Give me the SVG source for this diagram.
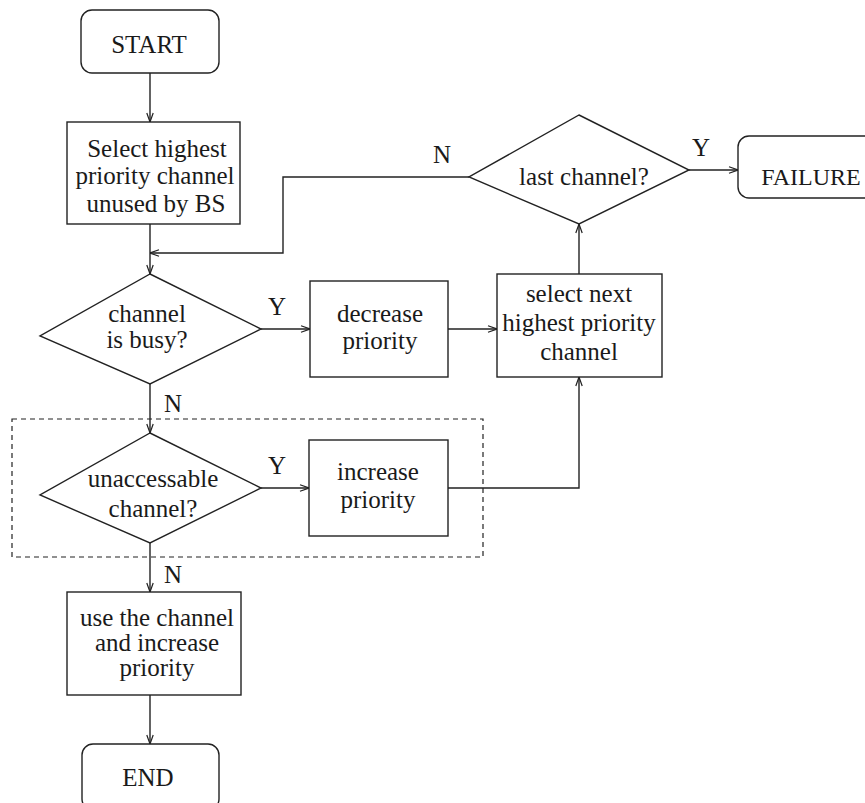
<svg xmlns="http://www.w3.org/2000/svg" width="865" height="803" viewBox="0 0 865 803">
<style>
.s{fill:none;stroke:#222;stroke-width:1.4}
.n{fill:#fff;stroke:#222;stroke-width:1.4}
.t{font-family:'Liberation Serif','Times New Roman',Times,serif;font-size:25px;fill:#1a1a1a;text-anchor:middle}
.d{fill:none;stroke:#222;stroke-width:1.2;stroke-dasharray:5 4}
</style>
<defs>
<marker id="a" viewBox="0 0 10 10" refX="10" refY="5" markerWidth="10" markerHeight="10" markerUnits="userSpaceOnUse" orient="auto">
<polyline points="1,1.8 10,5 1,8.2" fill="none" stroke="#222" stroke-width="1.2"/>
</marker>
</defs>
<rect class="d" x="12" y="419" width="471" height="138"/>
<g id="connectors">
<path class="s" d="M150,73 V122" marker-end="url(#a)"/>
<path class="s" d="M150,224 V274" marker-end="url(#a)"/>
<path class="s" d="M469,177 H283 V253 H150" marker-end="url(#a)"/>
<path class="s" d="M261,329 H310" marker-end="url(#a)"/>
<path class="s" d="M448,329 H497" marker-end="url(#a)"/>
<path class="s" d="M579,274 V224" marker-end="url(#a)"/>
<path class="s" d="M689,170 H738" marker-end="url(#a)"/>
<path class="s" d="M150,384 V433" marker-end="url(#a)"/>
<path class="s" d="M261,488 H309" marker-end="url(#a)"/>
<path class="s" d="M448,488 H579 V377" marker-end="url(#a)"/>
<path class="s" d="M150,543 V592" marker-end="url(#a)"/>
<path class="s" d="M150,695 V744" marker-end="url(#a)"/>
<text class="t" x="277" y="315">Y</text>
<text class="t" x="173" y="412">N</text>
<text class="t" x="277" y="474">Y</text>
<text class="t" x="173" y="583">N</text>
<text class="t" x="442" y="163">N</text>
<text class="t" x="701" y="156">Y</text>
</g>
<g id="start">
<rect class="n" x="81" y="10" width="138" height="63" rx="11"/>
<text class="t" x="149" y="53">START</text>
</g>
<g id="select">
<rect class="n" x="67" y="122" width="173" height="102"/>
<text class="t" x="157" y="157">Select highest</text>
<text class="t" x="155" y="184">priority channel</text>
<text class="t" x="156" y="212">unused by BS</text>
</g>
<g id="busy">
<polygon class="n" points="150,274 261,329 150,384 40,336"/>
<text class="t" x="147" y="322">channel</text>
<text class="t" x="147" y="348">is busy?</text>
</g>
<g id="decrease">
<rect class="n" x="310" y="281" width="138" height="96"/>
<text class="t" x="380" y="322">decrease</text>
<text class="t" x="380" y="349">priority</text>
</g>
<g id="selectnext">
<rect class="n" x="497" y="274" width="165" height="103"/>
<text class="t" x="579" y="302">select next</text>
<text class="t" x="579" y="331">highest priority</text>
<text class="t" x="579" y="360">channel</text>
</g>
<g id="last">
<polygon class="n" points="579,115 689,170 579,224 469,177"/>
<text class="t" x="584" y="185">last channel?</text>
</g>
<g id="failure">
<rect class="n" x="738" y="136" width="140" height="62" rx="11"/>
<text class="t" x="811" y="185" style="font-size:24px">FAILURE</text>
</g>
<g id="unaccessable">
<polygon class="n" points="150,433 261,488 150,543 40,495"/>
<text class="t" x="153" y="487">unaccessable</text>
<text class="t" x="153" y="517">channel?</text>
</g>
<g id="increase">
<rect class="n" x="309" y="440" width="139" height="96"/>
<text class="t" x="378" y="480">increase</text>
<text class="t" x="378" y="508">priority</text>
</g>
<g id="use">
<rect class="n" x="67" y="592" width="174" height="103"/>
<text class="t" x="157" y="626">use the channel</text>
<text class="t" x="157" y="651">and increase</text>
<text class="t" x="157" y="676">priority</text>
</g>
<g id="end">
<rect class="n" x="82" y="744" width="137" height="66" rx="11"/>
<text class="t" x="148" y="786">END</text>
</g>
</svg>
